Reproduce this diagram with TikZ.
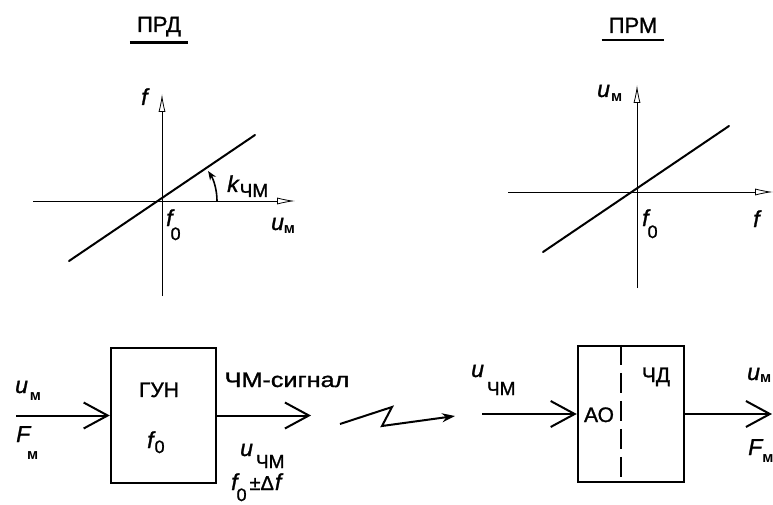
\documentclass[tikz,border=0pt]{standalone}
\usepackage{fontspec}
\setmainfont{Liberation Sans}[UprightFeatures={FakeBold=1.2},ItalicFeatures={FakeBold=1.2}]
\usetikzlibrary{arrows.meta}
\newcommand\smM[1][4pt]{\raisebox{-#1}{\fontsize{15}{15}\selectfont\upshape\bfseries м}}
\newcommand\smCM[1][5pt]{\raisebox{-#1}{\fontsize{19}{19}\selectfont\upshape ЧМ}}
\newcommand\smZ[1][5pt]{\raisebox{-#1}{\fontsize{18}{18}\selectfont\upshape 0}}
\begin{document}
\begin{tikzpicture}[x=1pt,y=-1pt,
  var/.style={inner sep=0pt, anchor=base west, font=\fontsize{23}{25}\selectfont\itshape},
  txt/.style={inner sep=0pt, anchor=base, font=\fontsize{21}{23}\selectfont},
  ttl/.style={inner sep=0pt, anchor=base, font=\fontsize{22}{24}\selectfont},
  axis/.style={line width=0.9pt, -{Latex[open,length=18pt,width=7pt,line width=0.8pt]}},
  gline/.style={line width=2pt, line cap=round},
  blk/.style={draw, line width=2.5pt, inner sep=0pt},
  flow/.style={line width=2pt, -{Straight Barb[length=24pt,width=26pt,line width=2pt]}},
]
\clip (0,0) rectangle (773,505);

% titles
\node[ttl] (tprd) at (159,32) {ПРД};
\draw[line width=2.5pt] ([xshift=-7pt,yshift=-6pt]tprd.south west) -- ([xshift=7pt,yshift=-6pt]tprd.south east);
\node[ttl] (tprm) at (633,33) {ПРМ};
\draw[line width=2.5pt] ([xshift=-7pt,yshift=-7pt]tprm.south west) -- ([xshift=7pt,yshift=-7pt]tprm.south east);

% left graph
\coordinate (o1) at (162,201);
\draw[axis] (162,296) -- (162,94);
\draw[axis] (33,201) -- (295,201);
\draw[gline] (69,261) -- (255,135);
\draw[line width=1.6pt, -{Stealth[length=9pt,width=7pt]}] (217,201) arc[start angle=0,end angle=-33,radius=55];
\node[var] (lf) at (141,105) {f};
\node[var] (lf0) at (166,226) {f\kern-2pt\smZ[14pt]};
\node[var] (lum) at (271,230) {u\smM[3pt]};
\node[var] (lk) at (227,192) {k\kern1pt\smCM[5pt]};

% right graph
\coordinate (o2) at (637,192);
\draw[axis] (637,288) -- (637,85);
\draw[axis] (508,192) -- (773,192);
\draw[gline] (543,252) -- (729,126);
\node[var] (rum) at (597,97) {u\kern1pt\smM[5pt]};
\node[var] (rf0) at (642,226) {f\kern-1pt\smZ[12pt]};
\node[var] (rf) at (753,227) {f};

% transmitter block
\node[blk, minimum width=105pt, minimum height=135pt] (gun) at (163.5,415.5) {};
\node[txt] (gunt) at (159,397) {ГУН};
\node[var] (gunf) at (147,448) {f\kern1pt\smZ[5pt]};
\coordinate (inL) at (16,415.5);
\coordinate (outL) at (311,416);
\draw[flow] (inL) -- (gun.west);
\draw[flow] (gun.east) -- (gun.east -| outL);
\node[var] (ium) at (15,393) {u\kern2pt\smM[7pt]};
\node[var] (iFm) at (16,442) {F\kern-3pt\smM[17pt]};
\node[txt] (chms) at (287,387) {\scalebox{1.2}[1]{ЧМ-сигнал}};
\node[var] (uchm) at (240,456) {u\kern3pt\smCM[12pt]};
\node[var] (fdf) at (231,490) {f\kern-1pt\smZ[11pt]\kern3pt{\upshape\fontsize{20}{20}\selectfont ±Δ}\kern1pt f};

% radio link
\coordinate (z1) at (340,424);
\coordinate (z2) at (392,407);
\coordinate (z3) at (382,426);
\coordinate (z4) at (455,416);
\draw[line width=2pt, line join=miter, -{Stealth[length=13pt,width=9pt]}] (z1) -- (z2) -- (z3) -- (z4);

% receiver block
\node[blk, minimum width=106pt, minimum height=136pt] (chd) at (631,414) {};
\draw[line width=2.5pt, dash pattern=on 20pt off 8pt] ([xshift=-10pt]chd.north) -- ([xshift=-10pt]chd.south);
\node[txt] (ao) at (599,422) {АО};
\node[txt] (chdt) at (656,382) {ЧД};
\coordinate (inR) at (482,414);
\coordinate (outR) at (772,414);
\draw[flow] (inR) -- (chd.west);
\draw[flow] (chd.east) -- (outR);
\node[var] (ruchm) at (471,377) {u\kern3pt\smCM[18pt]};
\node[var] (oum) at (747,380) {u\smM[2pt]};
\node[var] (oFm) at (748,455) {F\kern0pt\smM[7pt]};
\end{tikzpicture}
\end{document}
